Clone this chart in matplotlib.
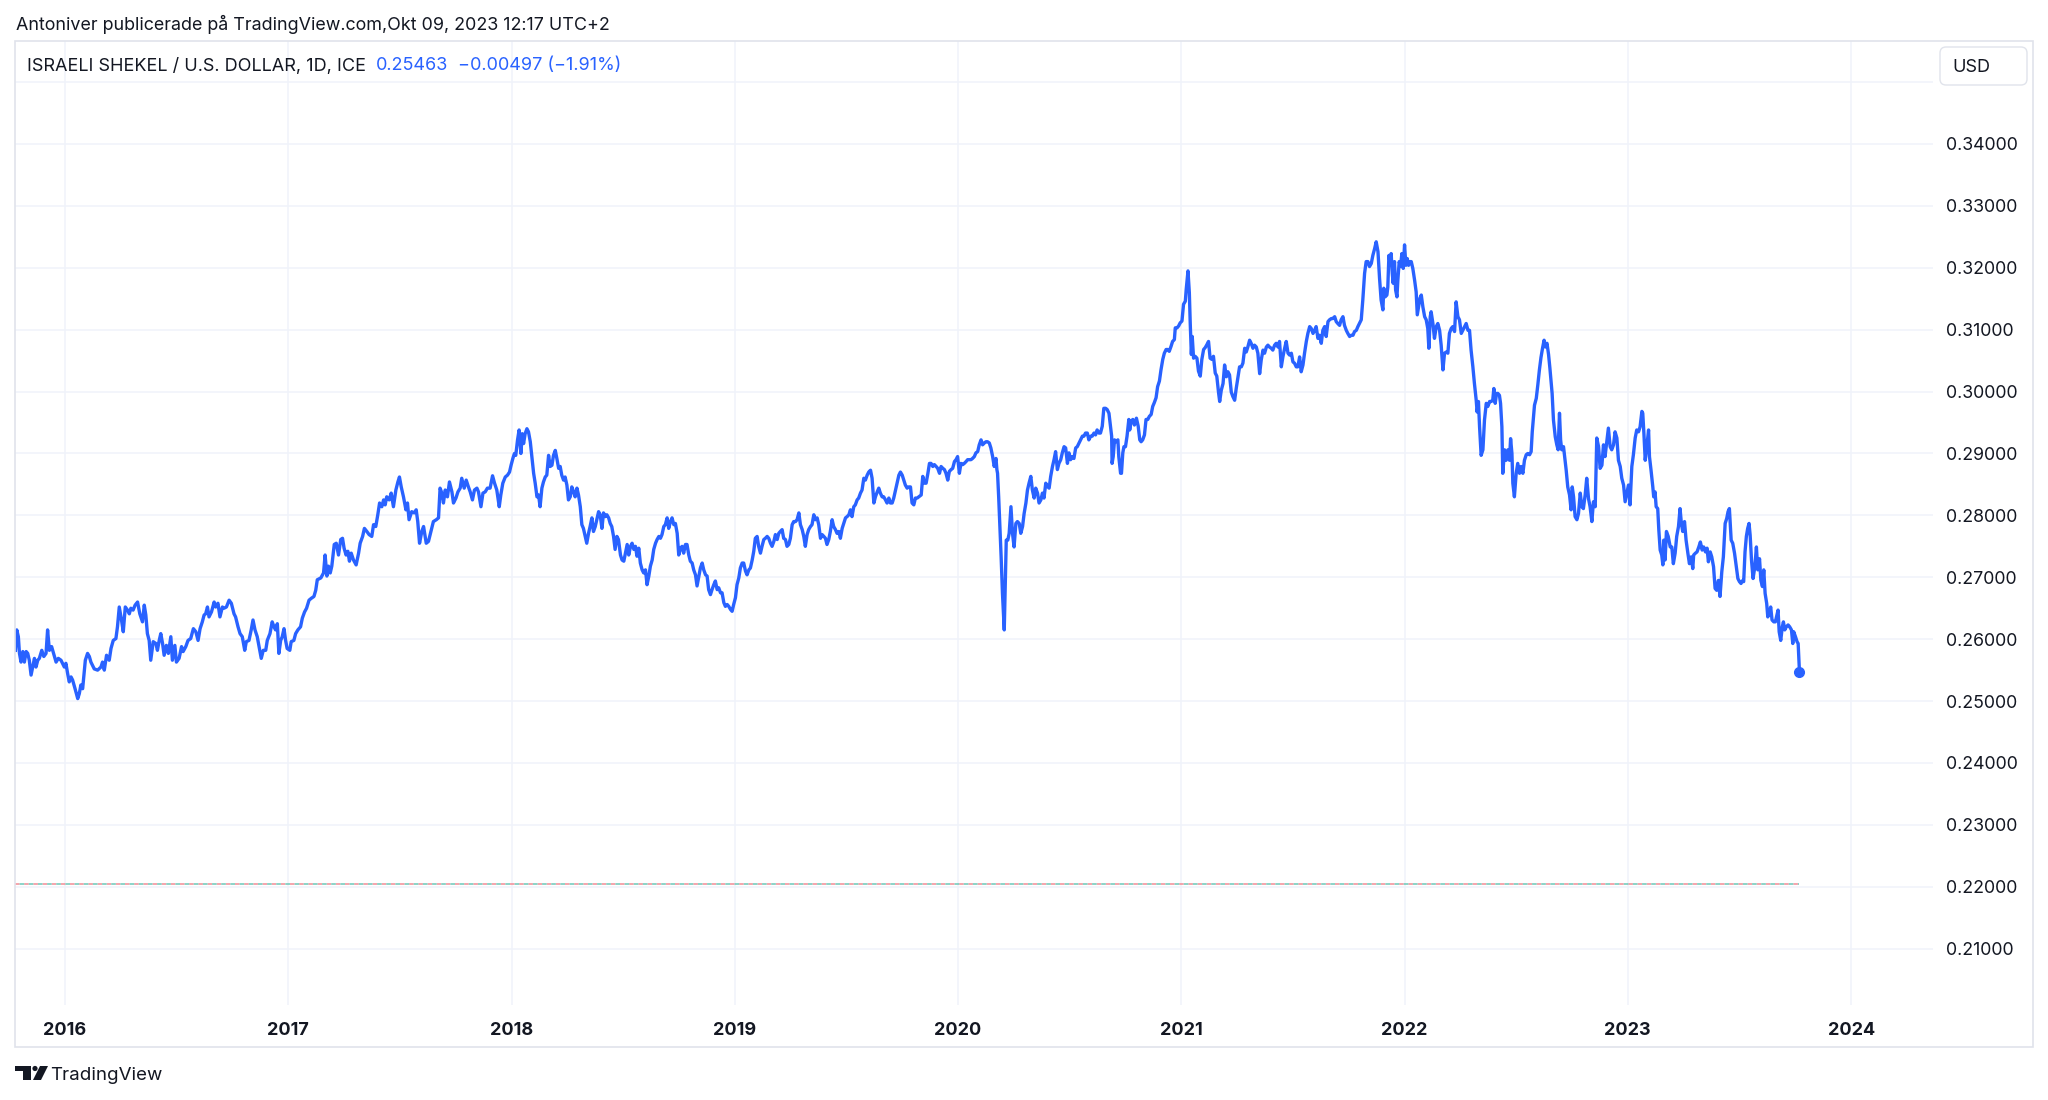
import matplotlib.pyplot as plt
from matplotlib.patches import Rectangle, FancyBboxPatch, Polygon, Circle

plt.rcParams['font.family'] = ['Inter', 'DejaVu Sans']

# daily closes, sampled off the chart (decimal year, ILS/USD)
years = [
    2015.778, 2015.784, 2015.791, 2015.796, 2015.803, 2015.811, 2015.818, 2015.826, 2015.833, 2015.840,
    2015.848, 2015.855, 2015.863, 2015.870, 2015.878, 2015.885, 2015.896, 2015.905, 2015.915, 2015.922,
    2015.930, 2015.940, 2015.949, 2015.960, 2015.970, 2015.982, 2015.989, 2015.997, 2016.004, 2016.012,
    2016.019, 2016.027, 2016.034, 2016.045, 2016.057, 2016.064, 2016.071, 2016.079, 2016.091, 2016.101,
    2016.109, 2016.116, 2016.131, 2016.146, 2016.161, 2016.168, 2016.176, 2016.186, 2016.198, 2016.206,
    2016.216, 2016.228, 2016.235, 2016.243, 2016.253, 2016.261, 2016.270, 2016.280, 2016.288, 2016.295,
    2016.305, 2016.314, 2016.325, 2016.335, 2016.347, 2016.355, 2016.362, 2016.369, 2016.377, 2016.384,
    2016.395, 2016.407, 2016.414, 2016.422, 2016.429, 2016.437, 2016.444, 2016.454, 2016.463, 2016.474,
    2016.481, 2016.492, 2016.499, 2016.511, 2016.522, 2016.529, 2016.541, 2016.551, 2016.563, 2016.575,
    2016.586, 2016.596, 2016.605, 2016.615, 2016.623, 2016.630, 2016.638, 2016.645, 2016.656, 2016.668,
    2016.675, 2016.685, 2016.694, 2016.705, 2016.712, 2016.723, 2016.735, 2016.745, 2016.757, 2016.764,
    2016.775, 2016.784, 2016.794, 2016.805, 2016.812, 2016.824, 2016.834, 2016.842, 2016.851, 2016.861,
    2016.869, 2016.879, 2016.888, 2016.899, 2016.906, 2016.918, 2016.928, 2016.936, 2016.943, 2016.951,
    2016.958, 2016.966, 2016.973, 2016.981, 2016.988, 2016.995, 2017.007, 2017.013, 2017.025, 2017.033,
    2017.043, 2017.055, 2017.063, 2017.073, 2017.082, 2017.093, 2017.103, 2017.115, 2017.123, 2017.130,
    2017.146, 2017.158, 2017.165, 2017.173, 2017.180, 2017.188, 2017.195, 2017.206, 2017.215, 2017.225,
    2017.235, 2017.243, 2017.250, 2017.259, 2017.267, 2017.274, 2017.282, 2017.292, 2017.304, 2017.315,
    2017.322, 2017.333, 2017.341, 2017.352, 2017.362, 2017.374, 2017.382, 2017.392, 2017.401, 2017.409,
    2017.419, 2017.427, 2017.434, 2017.441, 2017.452, 2017.461, 2017.471, 2017.482, 2017.491, 2017.498,
    2017.506, 2017.516, 2017.527, 2017.534, 2017.541, 2017.553, 2017.564, 2017.573, 2017.580, 2017.588,
    2017.598, 2017.606, 2017.618, 2017.628, 2017.639, 2017.650, 2017.663, 2017.673, 2017.680, 2017.688,
    2017.695, 2017.703, 2017.713, 2017.722, 2017.733, 2017.740, 2017.751, 2017.760, 2017.770, 2017.777,
    2017.788, 2017.797, 2017.807, 2017.815, 2017.825, 2017.834, 2017.845, 2017.852, 2017.863, 2017.872,
    2017.882, 2017.892, 2017.904, 2017.915, 2017.924, 2017.934, 2017.945, 2017.952, 2017.961, 2017.972,
    2017.982, 2017.991, 2017.998, 2018.006, 2018.013, 2018.019, 2018.027, 2018.034, 2018.042, 2018.048,
    2018.054, 2018.061, 2018.069, 2018.076, 2018.084, 2018.091, 2018.099, 2018.106, 2018.114, 2018.121,
    2018.128, 2018.136, 2018.143, 2018.151, 2018.158, 2018.166, 2018.173, 2018.181, 2018.188, 2018.196,
    2018.203, 2018.211, 2018.218, 2018.225, 2018.233, 2018.240, 2018.248, 2018.255, 2018.263, 2018.270,
    2018.278, 2018.285, 2018.293, 2018.300, 2018.308, 2018.315, 2018.322, 2018.330, 2018.337, 2018.345,
    2018.352, 2018.360, 2018.367, 2018.375, 2018.382, 2018.390, 2018.397, 2018.405, 2018.412, 2018.420,
    2018.427, 2018.435, 2018.442, 2018.449, 2018.457, 2018.464, 2018.472, 2018.479,
    2018.488, 2018.495, 2018.503, 2018.510, 2018.518, 2018.525, 2018.533, 2018.540, 2018.548, 2018.555,
    2018.562, 2018.570, 2018.577, 2018.585, 2018.592, 2018.600, 2018.607, 2018.615, 2018.622, 2018.630,
    2018.637, 2018.645, 2018.652, 2018.660, 2018.667, 2018.674, 2018.682, 2018.689, 2018.697, 2018.704,
    2018.712, 2018.719, 2018.727, 2018.734, 2018.742, 2018.749, 2018.757, 2018.764, 2018.771, 2018.779,
    2018.786, 2018.794, 2018.801, 2018.809, 2018.816, 2018.824, 2018.831, 2018.839, 2018.846, 2018.854,
    2018.861, 2018.869, 2018.876, 2018.883, 2018.891, 2018.898, 2018.906, 2018.913, 2018.921, 2018.928,
    2018.936, 2018.943, 2018.951, 2018.958, 2018.966, 2018.973, 2018.981, 2018.988, 2018.995, 2019.003,
    2019.010, 2019.018, 2019.025, 2019.033, 2019.040, 2019.048, 2019.055, 2019.063, 2019.070, 2019.078,
    2019.085, 2019.092, 2019.100, 2019.107, 2019.115, 2019.122, 2019.130, 2019.137, 2019.145, 2019.152,
    2019.160, 2019.167, 2019.175, 2019.182, 2019.190, 2019.197, 2019.204, 2019.212, 2019.219, 2019.227,
    2019.234, 2019.242, 2019.249, 2019.257, 2019.264, 2019.272, 2019.279, 2019.287, 2019.294, 2019.302,
    2019.309, 2019.316, 2019.324, 2019.331, 2019.339, 2019.346, 2019.354, 2019.361, 2019.369, 2019.376,
    2019.384, 2019.391, 2019.399, 2019.406, 2019.413, 2019.421, 2019.428, 2019.436, 2019.443, 2019.451,
    2019.458, 2019.466, 2019.473, 2019.481, 2019.488, 2019.496, 2019.503, 2019.511, 2019.518, 2019.525,
    2019.533, 2019.540, 2019.548, 2019.555, 2019.563, 2019.570, 2019.578, 2019.585, 2019.593, 2019.600,
    2019.608, 2019.615, 2019.623, 2019.630, 2019.638, 2019.645, 2019.652, 2019.660, 2019.667, 2019.675,
    2019.682, 2019.690, 2019.697, 2019.705, 2019.712, 2019.720, 2019.727, 2019.735, 2019.742, 2019.750,
    2019.757, 2019.764, 2019.772, 2019.779, 2019.787, 2019.794, 2019.802, 2019.809, 2019.817, 2019.824,
    2019.835, 2019.842, 2019.850, 2019.857, 2019.865, 2019.872, 2019.879, 2019.887, 2019.894, 2019.902,
    2019.909, 2019.917, 2019.924, 2019.932, 2019.939, 2019.946, 2019.954, 2019.961, 2019.969, 2019.976,
    2019.984, 2019.991, 2019.998, 2020.006, 2020.013, 2020.021, 2020.028, 2020.036, 2020.043, 2020.051,
    2020.058, 2020.065, 2020.073, 2020.080, 2020.088, 2020.095, 2020.103, 2020.110, 2020.118, 2020.125,
    2020.132, 2020.140, 2020.147, 2020.155, 2020.162, 2020.170, 2020.174, 2020.177, 2020.182, 2020.187,
    2020.193, 2020.199, 2020.207, 2020.211, 2020.216, 2020.223, 2020.229, 2020.237, 2020.244, 2020.251,
    2020.259, 2020.266, 2020.274, 2020.281, 2020.289, 2020.296, 2020.304, 2020.311, 2020.318, 2020.326,
    2020.333, 2020.341, 2020.348, 2020.356, 2020.363, 2020.371, 2020.378, 2020.385, 2020.393, 2020.400,
    2020.408, 2020.415, 2020.423, 2020.430, 2020.437, 2020.445, 2020.452, 2020.460, 2020.467, 2020.475,
    2020.482, 2020.490, 2020.497, 2020.504, 2020.512, 2020.519, 2020.527, 2020.534, 2020.542, 2020.549,
    2020.557, 2020.564, 2020.571, 2020.579, 2020.586, 2020.594, 2020.601, 2020.609, 2020.616, 2020.623,
    2020.631, 2020.638, 2020.646, 2020.653, 2020.661, 2020.668, 2020.676, 2020.683, 2020.688, 2020.690,
    2020.695, 2020.701, 2020.708, 2020.716, 2020.720, 2020.728, 2020.732, 2020.738, 2020.743, 2020.750,
    2020.757, 2020.765, 2020.769, 2020.775, 2020.783, 2020.790, 2020.799, 2020.807, 2020.814, 2020.820,
    2020.827, 2020.835, 2020.842, 2020.850, 2020.857, 2020.865, 2020.872, 2020.879, 2020.887, 2020.894,
    2020.902, 2020.909, 2020.917, 2020.924, 2020.932, 2020.939, 2020.946, 2020.954, 2020.961, 2020.969,
    2020.973, 2020.981, 2020.988, 2020.995, 2021.003, 2021.010, 2021.018, 2021.022, 2021.030, 2021.036,
    2021.040, 2021.045, 2021.049, 2021.055, 2021.062, 2021.070, 2021.077, 2021.085, 2021.092, 2021.100,
    2021.107, 2021.115, 2021.122, 2021.129, 2021.137, 2021.144, 2021.152, 2021.159, 2021.167,
    2021.172, 2021.179, 2021.187, 2021.194, 2021.202, 2021.209, 2021.216, 2021.224, 2021.231, 2021.239,
    2021.246, 2021.254, 2021.261, 2021.269, 2021.276, 2021.284, 2021.291, 2021.298, 2021.306, 2021.313,
    2021.321, 2021.328, 2021.336, 2021.343, 2021.351, 2021.358, 2021.366, 2021.373, 2021.381, 2021.388,
    2021.395, 2021.403, 2021.410, 2021.418, 2021.425, 2021.433, 2021.440, 2021.448, 2021.455, 2021.463,
    2021.470, 2021.478, 2021.485, 2021.493, 2021.500, 2021.507, 2021.515, 2021.522, 2021.530, 2021.537,
    2021.545, 2021.552, 2021.560, 2021.567, 2021.575, 2021.582, 2021.590, 2021.597, 2021.604, 2021.612,
    2021.619, 2021.627, 2021.634, 2021.642, 2021.649, 2021.657, 2021.664, 2021.672, 2021.679, 2021.687,
    2021.694, 2021.701, 2021.709, 2021.716, 2021.724, 2021.731, 2021.739, 2021.746, 2021.754, 2021.761,
    2021.769, 2021.776, 2021.784, 2021.791, 2021.798, 2021.806, 2021.813, 2021.821, 2021.828, 2021.836,
    2021.843, 2021.851, 2021.858, 2021.866, 2021.873, 2021.881, 2021.888, 2021.895, 2021.903, 2021.907,
    2021.913, 2021.921, 2021.925, 2021.930, 2021.936, 2021.940, 2021.945, 2021.949, 2021.955, 2021.960,
    2021.966, 2021.970, 2021.976, 2021.982, 2021.988, 2021.994, 2022.000, 2022.006, 2022.012, 2022.018,
    2022.024, 2022.030, 2022.037, 2022.045, 2022.052, 2022.057, 2022.063, 2022.069, 2022.075, 2022.082,
    2022.090, 2022.097, 2022.104, 2022.109, 2022.115, 2022.119, 2022.127, 2022.134, 2022.142, 2022.149,
    2022.157, 2022.164, 2022.172, 2022.179, 2022.187, 2022.194, 2022.201, 2022.209, 2022.216, 2022.224,
    2022.231, 2022.239, 2022.246, 2022.254, 2022.261, 2022.269, 2022.276, 2022.284, 2022.291, 2022.298,
    2022.306, 2022.313, 2022.321, 2022.325, 2022.331, 2022.336, 2022.343, 2022.351, 2022.358, 2022.366,
    2022.373, 2022.381, 2022.388, 2022.395, 2022.400, 2022.406, 2022.412, 2022.418, 2022.425, 2022.430,
    2022.436, 2022.440, 2022.448, 2022.455, 2022.463, 2022.470, 2022.475, 2022.481, 2022.485, 2022.492,
    2022.500, 2022.507,
    2022.515, 2022.522, 2022.530, 2022.537, 2022.545, 2022.552, 2022.560, 2022.567, 2022.572, 2022.578,
    2022.582, 2022.590, 2022.597, 2022.604, 2022.611, 2022.618, 2022.625, 2022.631, 2022.638, 2022.645,
    2022.651, 2022.657, 2022.661, 2022.667, 2022.675, 2022.682, 2022.688, 2022.694, 2022.699, 2022.704,
    2022.712, 2022.716, 2022.724, 2022.731, 2022.739, 2022.746, 2022.751, 2022.757, 2022.764, 2022.772,
    2022.779, 2022.787, 2022.794, 2022.801, 2022.809, 2022.816, 2022.824, 2022.831, 2022.839, 2022.846,
    2022.854, 2022.861, 2022.869, 2022.876, 2022.884, 2022.891, 2022.898, 2022.906, 2022.913, 2022.921,
    2022.928, 2022.936, 2022.943, 2022.951, 2022.958, 2022.966, 2022.973, 2022.981, 2022.988, 2022.996,
    2023.003, 2023.010, 2023.018, 2023.025, 2023.033, 2023.040, 2023.048, 2023.055, 2023.063, 2023.067,
    2023.072, 2023.078, 2023.085, 2023.093, 2023.097, 2023.104, 2023.112, 2023.116, 2023.122, 2023.127,
    2023.134, 2023.139, 2023.145, 2023.152, 2023.157, 2023.161, 2023.167, 2023.173, 2023.181, 2023.190,
    2023.197, 2023.204, 2023.212, 2023.219, 2023.227, 2023.234, 2023.240, 2023.246, 2023.254, 2023.261,
    2023.269, 2023.276, 2023.284, 2023.291, 2023.295, 2023.303, 2023.310, 2023.318, 2023.325, 2023.333,
    2023.340, 2023.348, 2023.355, 2023.361, 2023.369, 2023.376, 2023.384, 2023.391, 2023.398, 2023.406,
    2023.413, 2023.421, 2023.428, 2023.436, 2023.443, 2023.449, 2023.455, 2023.463, 2023.470, 2023.478,
    2023.485, 2023.493, 2023.500, 2023.507, 2023.515, 2023.519, 2023.525, 2023.531, 2023.537, 2023.543,
    2023.548, 2023.554, 2023.561, 2023.569, 2023.576, 2023.582, 2023.590, 2023.596, 2023.603, 2023.609,
    2023.615, 2023.622, 2023.627, 2023.633, 2023.640, 2023.646, 2023.654, 2023.661, 2023.669, 2023.673,
    2023.678, 2023.685, 2023.692, 2023.697, 2023.703, 2023.710, 2023.718, 2023.725, 2023.733, 2023.739,
    2023.743, 2023.751, 2023.758, 2023.763, 2023.769,
]
rates = [
    0.2582, 0.2615, 0.2604, 0.2577, 0.2563, 0.2580, 0.2563, 0.2580, 0.2577, 0.2566,
    0.2542, 0.2555, 0.2569, 0.2555, 0.2566, 0.2569, 0.2582, 0.2572, 0.2577, 0.2615,
    0.2582, 0.2588, 0.2577, 0.2563, 0.2569, 0.2566, 0.2561, 0.2555, 0.2561, 0.2544,
    0.2531, 0.2539, 0.2534, 0.2520, 0.2504, 0.2512, 0.2526, 0.2520, 0.2566, 0.2577,
    0.2572, 0.2563, 0.2552, 0.2550, 0.2555, 0.2563, 0.2550, 0.2574, 0.2566, 0.2585,
    0.2598, 0.2601, 0.2620, 0.2652, 0.2631, 0.2612, 0.2652, 0.2647, 0.2641, 0.2650,
    0.2647, 0.2655, 0.2660, 0.2641, 0.2628, 0.2655, 0.2639, 0.2609, 0.2598, 0.2566,
    0.2596, 0.2593, 0.2582, 0.2598, 0.2609, 0.2593, 0.2574, 0.2590, 0.2577, 0.2604,
    0.2566, 0.2590, 0.2563, 0.2569, 0.2588, 0.2580, 0.2588, 0.2598, 0.2601, 0.2617,
    0.2612, 0.2598, 0.2617, 0.2628, 0.2639, 0.2641, 0.2652, 0.2636, 0.2644, 0.2660,
    0.2652, 0.2658, 0.2636, 0.2652, 0.2650, 0.2652, 0.2663, 0.2658, 0.2641, 0.2636,
    0.2620, 0.2609, 0.2604, 0.2582, 0.2596, 0.2598, 0.2615, 0.2631, 0.2615, 0.2604,
    0.2588, 0.2569, 0.2582, 0.2582, 0.2598, 0.2609, 0.2628, 0.2620, 0.2615, 0.2625,
    0.2577, 0.2598, 0.2604, 0.2617, 0.2598, 0.2585, 0.2582, 0.2596, 0.2598, 0.2609,
    0.2615, 0.2620, 0.2634, 0.2644, 0.2650, 0.2663, 0.2666, 0.2669, 0.2679, 0.2696,
    0.2699, 0.2707, 0.2736, 0.2702, 0.2718, 0.2707, 0.2718, 0.2753, 0.2755, 0.2736,
    0.2761, 0.2763, 0.2747, 0.2736, 0.2742, 0.2726, 0.2739, 0.2728, 0.2720, 0.2739,
    0.2755, 0.2766, 0.2779, 0.2774, 0.2769, 0.2766, 0.2785, 0.2782, 0.2801, 0.2820,
    0.2814, 0.2825, 0.2817, 0.2830, 0.2825, 0.2836, 0.2814, 0.2841, 0.2854, 0.2862,
    0.2846, 0.2830, 0.2809, 0.2820, 0.2793, 0.2806, 0.2804, 0.2809, 0.2790, 0.2755,
    0.2774, 0.2782, 0.2755, 0.2758, 0.2774, 0.2790, 0.2793, 0.2796, 0.2844, 0.2836,
    0.2820, 0.2841, 0.2830, 0.2854, 0.2838, 0.2820, 0.2828, 0.2838, 0.2844, 0.2860,
    0.2844, 0.2857, 0.2846, 0.2838, 0.2825, 0.2841, 0.2844, 0.2838, 0.2814, 0.2836,
    0.2838, 0.2844, 0.2844, 0.2864, 0.2852, 0.2841, 0.2814, 0.2833, 0.2852, 0.2862,
    0.2865, 0.2870, 0.2881, 0.2892, 0.2900, 0.2897, 0.2922, 0.2938, 0.2900, 0.2932,
    0.2916, 0.2932, 0.2940, 0.2935, 0.2919, 0.2895, 0.2868, 0.2852, 0.2830, 0.2833,
    0.2814, 0.2844, 0.2854, 0.2862, 0.2865, 0.2897, 0.2879, 0.2881, 0.2897, 0.2905,
    0.2892, 0.2876, 0.2879, 0.2865, 0.2857, 0.2862, 0.2849, 0.2825, 0.2830, 0.2846,
    0.2838, 0.2830, 0.2844, 0.2833, 0.2814, 0.2785, 0.2779, 0.2766, 0.2755, 0.2771,
    0.2782, 0.2796, 0.2774, 0.2782, 0.2793, 0.2806, 0.2801, 0.2779, 0.2804, 0.2798,
    0.2801, 0.2796, 0.2787, 0.2782, 0.2766, 0.2745, 0.2766, 0.2761,
    0.2736, 0.2728, 0.2726, 0.2739, 0.2753, 0.2736, 0.2750, 0.2755, 0.2745, 0.2750,
    0.2734, 0.2747, 0.2723, 0.2712, 0.2707, 0.2712, 0.2688, 0.2702, 0.2718, 0.2728,
    0.2745, 0.2755, 0.2761, 0.2766, 0.2763, 0.2769, 0.2782, 0.2785, 0.2796, 0.2779,
    0.2790, 0.2796, 0.2785, 0.2787, 0.2771, 0.2736, 0.2747, 0.2750, 0.2739, 0.2753,
    0.2753, 0.2736, 0.2726, 0.2723, 0.2712, 0.2704, 0.2686, 0.2702, 0.2715, 0.2723,
    0.2712, 0.2704, 0.2702, 0.2680, 0.2672, 0.2680, 0.2688, 0.2694, 0.2680, 0.2683,
    0.2675, 0.2675, 0.2659, 0.2653, 0.2656, 0.2653, 0.2648, 0.2645, 0.2656, 0.2667,
    0.2688, 0.2699, 0.2715, 0.2723, 0.2723, 0.2710, 0.2704, 0.2712, 0.2715, 0.2728,
    0.2742, 0.2763, 0.2766, 0.2750, 0.2739, 0.2750, 0.2761, 0.2763, 0.2766, 0.2763,
    0.2755, 0.2750, 0.2758, 0.2769, 0.2761, 0.2771, 0.2774, 0.2777, 0.2763, 0.2761,
    0.2750, 0.2753, 0.2763, 0.2785, 0.2790, 0.2790, 0.2793, 0.2804, 0.2785, 0.2777,
    0.2766, 0.2750, 0.2769, 0.2777, 0.2782, 0.2785, 0.2801, 0.2793, 0.2796, 0.2785,
    0.2763, 0.2769, 0.2766, 0.2763, 0.2753, 0.2761, 0.2774, 0.2793, 0.2782, 0.2777,
    0.2771, 0.2774, 0.2763, 0.2779, 0.2787, 0.2796, 0.2798, 0.2801, 0.2809, 0.2798,
    0.2814, 0.2817, 0.2825, 0.2828, 0.2836, 0.2841, 0.2860, 0.2857, 0.2865, 0.2870,
    0.2873, 0.2860, 0.2820, 0.2830, 0.2838, 0.2844, 0.2836, 0.2830, 0.2830, 0.2825,
    0.2820, 0.2828, 0.2820, 0.2820, 0.2828, 0.2841, 0.2852, 0.2865, 0.2870, 0.2865,
    0.2857, 0.2849, 0.2844, 0.2846, 0.2846, 0.2820, 0.2817, 0.2828, 0.2828, 0.2830,
    0.2833, 0.2863, 0.2852, 0.2852, 0.2868, 0.2884, 0.2884, 0.2879, 0.2882, 0.2879,
    0.2876, 0.2868, 0.2879, 0.2876, 0.2874, 0.2868, 0.2857, 0.2871, 0.2874, 0.2876,
    0.2887, 0.2890, 0.2895, 0.2868, 0.2884, 0.2882, 0.2884, 0.2887, 0.2890, 0.2890,
    0.2890, 0.2892, 0.2895, 0.2901, 0.2903, 0.2914, 0.2922, 0.2914, 0.2917, 0.2919,
    0.2919, 0.2917, 0.2909, 0.2895, 0.2879, 0.2892, 0.2874, 0.2868, 0.2830, 0.2787,
    0.2733, 0.2674, 0.2615, 0.2679, 0.2760, 0.2760, 0.2771, 0.2814, 0.2771, 0.2749,
    0.2787, 0.2790, 0.2787, 0.2771, 0.2782, 0.2803, 0.2820, 0.2841, 0.2852, 0.2863,
    0.2841, 0.2828, 0.2844, 0.2836, 0.2820, 0.2825, 0.2836, 0.2828, 0.2852, 0.2847,
    0.2844, 0.2863, 0.2879, 0.2890, 0.2903, 0.2874, 0.2884, 0.2890, 0.2901, 0.2911,
    0.2909, 0.2884, 0.2901, 0.2890, 0.2895, 0.2892, 0.2909, 0.2911, 0.2917, 0.2922,
    0.2928, 0.2928, 0.2933, 0.2933, 0.2922, 0.2928, 0.2928, 0.2933, 0.2930, 0.2938,
    0.2933, 0.2933, 0.2944, 0.2973, 0.2973, 0.2971, 0.2965, 0.2944, 0.2928, 0.2884,
    0.2895, 0.2922, 0.2919, 0.2922, 0.2895, 0.2868, 0.2868, 0.2901, 0.2911, 0.2911,
    0.2928, 0.2955, 0.2938, 0.2952, 0.2955, 0.2946, 0.2957, 0.2944, 0.2922, 0.2919,
    0.2922, 0.2930, 0.2955, 0.2955, 0.2960, 0.2963, 0.2976, 0.2982, 0.2990, 0.3008,
    0.3017, 0.3035, 0.3052, 0.3062, 0.3068, 0.3068, 0.3065, 0.3073, 0.3081, 0.3084,
    0.3103, 0.3103, 0.3106, 0.3111, 0.3114, 0.3141, 0.3146, 0.3165, 0.3195, 0.3160,
    0.3111, 0.3060, 0.3089, 0.3054, 0.3057, 0.3054, 0.3033, 0.3025, 0.3052, 0.3068,
    0.3071, 0.3076, 0.3081, 0.3054, 0.3052, 0.3057, 0.3030, 0.3025, 0.2998,
    0.2984, 0.3002, 0.3013, 0.3043, 0.3024, 0.3032, 0.3027, 0.2999, 0.2992, 0.2986,
    0.3005, 0.3024, 0.3040, 0.3040, 0.3046, 0.3070, 0.3064, 0.3072, 0.3083, 0.3078,
    0.3070, 0.3075, 0.3072, 0.3062, 0.3029, 0.3051, 0.3067, 0.3062, 0.3072, 0.3075,
    0.3072, 0.3070, 0.3067, 0.3075, 0.3078, 0.3072, 0.3081, 0.3040, 0.3056, 0.3070,
    0.3081, 0.3062, 0.3059, 0.3062, 0.3048, 0.3046, 0.3040, 0.3040, 0.3056, 0.3032,
    0.3043, 0.3062, 0.3081, 0.3094, 0.3105, 0.3102, 0.3094, 0.3099, 0.3105, 0.3086,
    0.3091, 0.3078, 0.3099, 0.3105, 0.3089, 0.3113, 0.3116, 0.3118, 0.3118, 0.3121,
    0.3113, 0.3110, 0.3107, 0.3116, 0.3121, 0.3107, 0.3099, 0.3094, 0.3089, 0.3091,
    0.3091, 0.3097, 0.3099, 0.3105, 0.3110, 0.3116, 0.3148, 0.3191, 0.3210, 0.3210,
    0.3202, 0.3207, 0.3220, 0.3231, 0.3242, 0.3226, 0.3183, 0.3148, 0.3132, 0.3167,
    0.3153, 0.3156, 0.3169, 0.3220, 0.3207, 0.3223, 0.3191, 0.3175, 0.3210, 0.3164,
    0.3153, 0.3180, 0.3210, 0.3202, 0.3223, 0.3199, 0.3237, 0.3204, 0.3215, 0.3204,
    0.3210, 0.3210, 0.3199, 0.3180, 0.3161, 0.3124, 0.3137, 0.3151, 0.3156, 0.3137,
    0.3121, 0.3116, 0.3102, 0.3070, 0.3121, 0.3129, 0.3110, 0.3086, 0.3105, 0.3110,
    0.3099, 0.3075, 0.3035, 0.3062, 0.3064, 0.3062, 0.3094, 0.3102, 0.3105, 0.3097,
    0.3145, 0.3121, 0.3116, 0.3094, 0.3099, 0.3105, 0.3110, 0.3099, 0.3099, 0.3067,
    0.3040, 0.3013, 0.2986, 0.2967, 0.2984, 0.2943, 0.2897, 0.2906, 0.2954, 0.2981,
    0.2976, 0.2984, 0.2984, 0.2986, 0.3005, 0.2981, 0.2997, 0.2997, 0.2994, 0.2981,
    0.2943, 0.2868, 0.2906, 0.2889, 0.2906, 0.2889, 0.2924, 0.2900, 0.2852, 0.2830,
    0.2868, 0.2884,
    0.2868, 0.2879, 0.2868, 0.2889, 0.2898, 0.2900, 0.2898, 0.2903, 0.2935, 0.2960,
    0.2978, 0.2989, 0.3011, 0.3035, 0.3055, 0.3070, 0.3083, 0.3072, 0.3078, 0.3060,
    0.3038, 0.3014, 0.2997, 0.2954, 0.2927, 0.2914, 0.2906, 0.2965, 0.2922, 0.2906,
    0.2911, 0.2898, 0.2873, 0.2846, 0.2833, 0.2809, 0.2846, 0.2830, 0.2798, 0.2793,
    0.2803, 0.2836, 0.2814, 0.2811, 0.2833, 0.2860, 0.2827, 0.2814, 0.2790, 0.2822,
    0.2814, 0.2925, 0.2911, 0.2876, 0.2881, 0.2914, 0.2895, 0.2919, 0.2941, 0.2911,
    0.2906, 0.2914, 0.2935, 0.2925, 0.2889, 0.2879, 0.2860, 0.2849, 0.2822, 0.2836,
    0.2849, 0.2817, 0.2879, 0.2898, 0.2925, 0.2938, 0.2935, 0.2943, 0.2968, 0.2965,
    0.2933, 0.2889, 0.2911, 0.2938, 0.2895, 0.2873, 0.2846, 0.2830, 0.2838, 0.2814,
    0.2811, 0.2776, 0.2744, 0.2736, 0.2720, 0.2760, 0.2728, 0.2774, 0.2766, 0.2749,
    0.2749, 0.2722, 0.2739, 0.2766, 0.2782, 0.2811, 0.2787, 0.2774, 0.2790, 0.2760,
    0.2739, 0.2722, 0.2733, 0.2714, 0.2736, 0.2739, 0.2741, 0.2749, 0.2757, 0.2744,
    0.2749, 0.2741, 0.2747, 0.2725, 0.2741, 0.2733, 0.2717, 0.2682, 0.2679, 0.2695,
    0.2669, 0.2709, 0.2733, 0.2787, 0.2795, 0.2806, 0.2811, 0.2760, 0.2755, 0.2739,
    0.2720, 0.2698, 0.2693, 0.2690, 0.2695, 0.2693, 0.2741, 0.2766, 0.2779, 0.2787,
    0.2768, 0.2728, 0.2698, 0.2717, 0.2749, 0.2712, 0.2730, 0.2695, 0.2685, 0.2712,
    0.2674, 0.2658, 0.2636, 0.2641, 0.2652, 0.2631, 0.2628, 0.2628, 0.2641, 0.2647,
    0.2612, 0.2598, 0.2620, 0.2628, 0.2615, 0.2620, 0.2623, 0.2620, 0.2615, 0.2593,
    0.2612, 0.2604, 0.2596, 0.2593, 0.25463,
]

year_ticks = [2016, 2017, 2018, 2019, 2020, 2021, 2022, 2023, 2024]
price_ticks = [0.21, 0.22, 0.23, 0.24, 0.25, 0.26, 0.27, 0.28, 0.29, 0.30, 0.31, 0.32, 0.33, 0.34]
baseline_level = 0.2205
last_close = 0.25463
change = -0.00497
change_pct = -1.91

title = 'Antoniver publicerade på TradingView.com,Okt 09, 2023 12:17 UTC+2'
symbol = 'ISRAELI SHEKEL / U.S. DOLLAR, 1D, ICE'

blue = '#2962ff'
ink = '#131722'
grid = '#f0f3fa'
frame = '#e0e3eb'

W, H = 2048, 1100
fig = plt.figure(figsize=(W / 100, H / 100), dpi=100)
fig.patch.set_facecolor('white')

# chart pane, pixel box 15..1933 x 41..1005
ax = fig.add_axes([15 / W, 1 - 1005 / H, (1933 - 15) / W, (1005 - 41) / H])
x0, x1 = 2015.776, 2024.367
ax.set_xlim(x0, x1)
ax.set_ylim(0.2009, 0.35664)

ax.plot(years, rates, color=blue, lw=2.4, solid_joinstyle='round', zorder=3)
ax.plot(years[-1], rates[-1], 'o', color=blue, ms=7, zorder=4)

# two-colour dotted level line
ax.hlines(baseline_level, x0, years[-1], colors='#f28b94', linestyles=(0, (3, 3)), lw=1.1, zorder=2)
ax.hlines(baseline_level, x0, years[-1], colors='#6cc7b8', linestyles=(3, (3, 3)), lw=1.1, zorder=2)

ax.set_xticks(year_ticks)
ax.set_xticklabels([str(y) for y in year_ticks], fontweight='bold')
ax.set_yticks(price_ticks)
ax.set_yticklabels([f'{p:.5f}' for p in price_ticks])
ax.set_yticks([0.35], minor=True)
ax.yaxis.tick_right()
ax.tick_params(axis='y', which='both', length=0, pad=9.5, labelsize=12.8, labelcolor=ink)
ax.tick_params(axis='x', length=0, pad=12, labelsize=13, labelcolor=ink)
ax.grid(True, which='both', color=grid, lw=1.1)
ax.set_axisbelow(True)
for s in ax.spines.values():
    s.set_visible(False)

# overlay in pixel coords for frame, header and footer
ov = fig.add_axes([0, 0, 1, 1])
ov.set_xlim(0, W)
ov.set_ylim(H, 0)
ov.axis('off')
ov.patch.set_alpha(0)

ov.add_patch(Rectangle((15, 41), 2033 - 15, 1047 - 41, fill=False, ec=frame, lw=1.2))
ov.add_patch(FancyBboxPatch((1940, 47), 87, 38, boxstyle='round,pad=0,rounding_size=6',
                            fc='white', ec=frame, lw=1))
ov.text(1971, 68, 'USD', fontsize=13, color=ink, ha='center', va='center')

ov.text(16, 24, title, fontsize=12.9, color=ink, va='center')
ov.text(27, 66, symbol, fontsize=13, color=ink, va='center')
ov.text(376, 66, f'{last_close:.5f}', fontsize=13, color=blue, va='center')
ov.text(458, 66, f'\u2212{abs(change):.5f} (\u2212{abs(change_pct):.2f}%)', fontsize=13,
        color=blue, va='center')

# TradingView logo mark
ov.add_patch(Polygon([(15, 1066), (31, 1066), (31, 1080), (23, 1080), (23, 1071), (15, 1071)],
                     closed=True, fc=ink, ec='none'))
ov.add_patch(Circle((35, 1068.5), 2.6, fc=ink, ec='none'))
ov.add_patch(Polygon([(40, 1066), (48, 1066), (41, 1080), (33, 1080)], closed=True, fc=ink, ec='none'))
ov.text(50, 1075, 'TradingView', fontsize=13.5, color=ink, va='center')

fig.savefig('out.png', dpi=100, facecolor='white')
